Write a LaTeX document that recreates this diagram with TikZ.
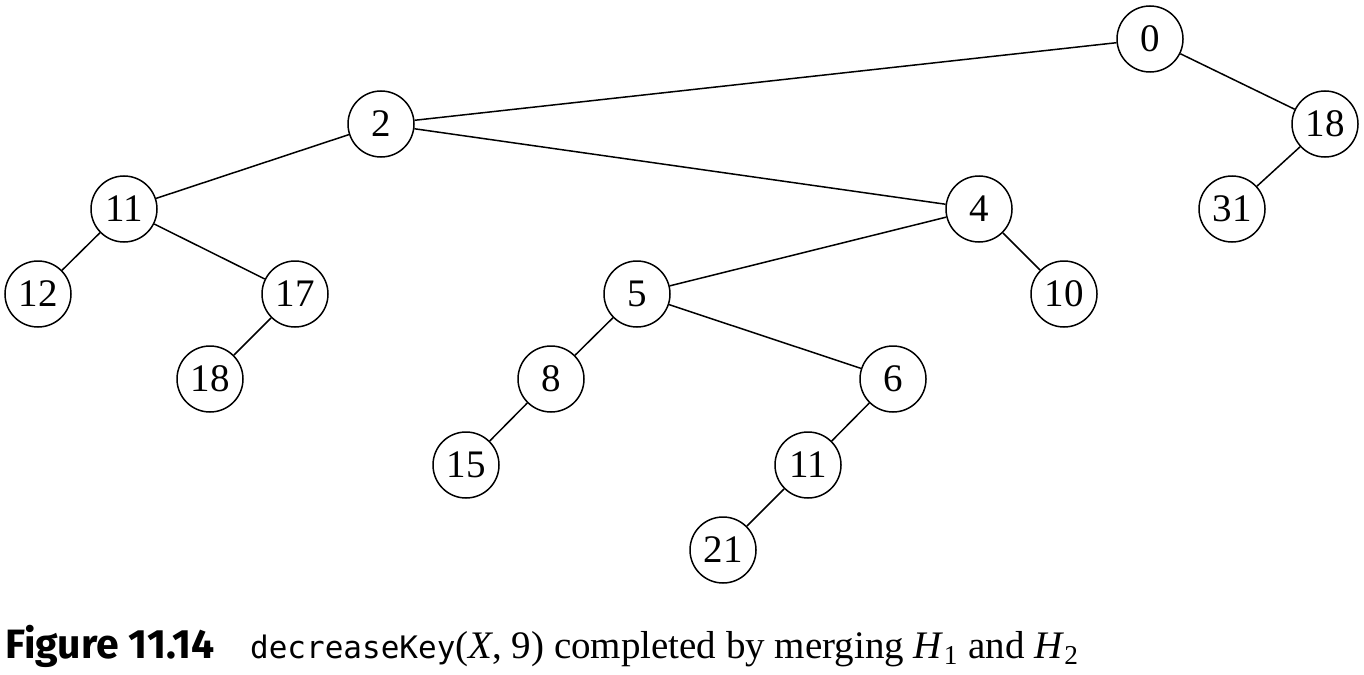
\documentclass[tikz,border=0pt]{standalone}
\usepackage{fontspec}
\setmainfont{Liberation Serif}
\newfontfamily\capsans{Fira Sans}
\newfontfamily\capmono{DejaVu Sans Mono}
\begin{document}
\begin{tikzpicture}[x=0.5pt,y=-0.5pt,
  hn/.style={draw,circle,line width=0.75pt,minimum size=33pt,inner sep=0pt,font=\fontsize{19.5}{19.5}\selectfont},
  ed/.style={line width=0.75pt}]
\useasboundingbox (0,0) rectangle (1364,674);
\node[hn] (n0) at (1150,39) {0};
\node[hn] (n18r) at (1325,124) {18};
\node[hn] (n31) at (1232,209) {31};
\node[hn] (n2) at (381,124) {2};
\node[hn] (n11) at (124,209) {11};
\node[hn] (n12) at (38,294) {12};
\node[hn] (n17) at (295,294) {17};
\node[hn] (n18l) at (210,379) {18};
\node[hn] (n4) at (979,209) {4};
\node[hn] (n5) at (637,294) {5};
\node[hn] (n10) at (1064,294) {10};
\node[hn] (n8) at (551,379) {8};
\node[hn] (n6) at (893,379) {6};
\node[hn] (n15) at (466,465) {15};
\node[hn] (n11b) at (808,465) {11};
\node[hn] (n21) at (723,550) {21};
\draw[ed] (n0) -- (n2);
\draw[ed] (n0) -- (n18r);
\draw[ed] (n18r) -- (n31);
\draw[ed] (n2) -- (n11);
\draw[ed] (n2) -- (n4);
\draw[ed] (n11) -- (n12);
\draw[ed] (n11) -- (n17);
\draw[ed] (n17) -- (n18l);
\draw[ed] (n4) -- (n5);
\draw[ed] (n4) -- (n10);
\draw[ed] (n5) -- (n8);
\draw[ed] (n5) -- (n6);
\draw[ed] (n8) -- (n15);
\draw[ed] (n6) -- (n11b);
\draw[ed] (n11b) -- (n21);
\node[anchor=base west,inner sep=0pt] (cap) at (5,658) {\fontsize{19.5}{20}\selectfont{\capsans\fontsize{20.5}{21}\selectfont\bfseries Figure 11.14}\hspace{18pt}{\capmono\fontsize{15.5}{17}\selectfont decreaseKey}(\textit{X}, 9) completed by merging \textit{H}\textsubscript{1} and \textit{H}\textsubscript{2}};
\end{tikzpicture}
\end{document}
